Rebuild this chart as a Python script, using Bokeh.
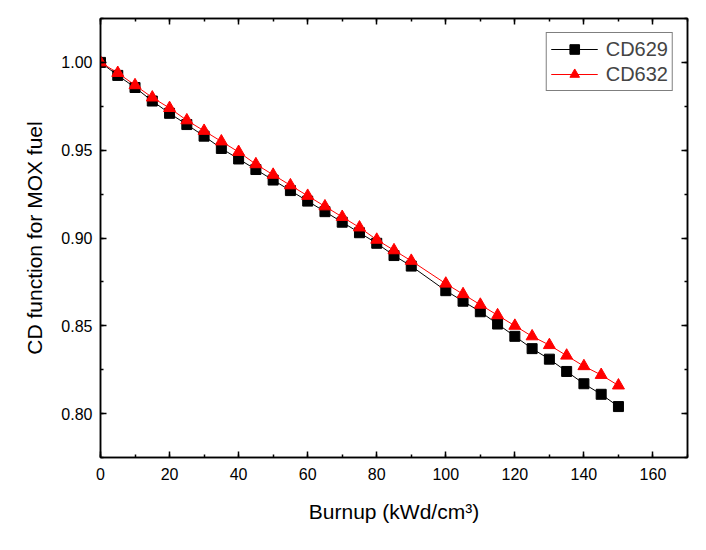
from bokeh.plotting import figure
from bokeh.models import (Range1d, LinearAxis, SingleIntervalTicker, PrintfTickFormatter,
                          Legend, LegendItem)
from bokeh.embed import file_html
from bokeh.resources import INLINE

burnup = [0, 5, 10, 15, 20, 25, 30, 35, 40, 45, 50, 55, 60, 65, 70, 75, 80, 85, 90,
          100, 105, 110, 115, 120, 125, 130, 135, 140, 145, 150]
cd629 = [1.000, 0.9926, 0.9857, 0.978, 0.971, 0.9646, 0.958, 0.951, 0.945, 0.939,
         0.933, 0.927, 0.921, 0.915, 0.909, 0.903, 0.897, 0.890, 0.884,
         0.870, 0.864, 0.858, 0.851, 0.844, 0.837, 0.831, 0.824, 0.817, 0.811, 0.804]
cd632 = [1.000, 0.994, 0.987, 0.980, 0.974, 0.967, 0.961, 0.955, 0.949, 0.942,
         0.936, 0.930, 0.924, 0.918, 0.912, 0.906, 0.899, 0.893, 0.887,
         0.874, 0.868, 0.862, 0.856, 0.850, 0.844, 0.839, 0.833, 0.827, 0.822, 0.816]

FONT = "Liberation Sans"

p = figure(width=698, height=534, output_backend="svg", toolbar_location=None,
           x_range=Range1d(0, 170), y_range=Range1d(0.775, 1.025),
           min_border_left=100, min_border_right=11, min_border_top=18, min_border_bottom=77,
           x_axis_label="Burnup (kWd/cm³)", y_axis_label="CD function for MOX fuel")
p.grid.visible = False
p.outline_line_color = "black"
p.outline_line_width = 1.5

xt = SingleIntervalTicker(interval=20, num_minor_ticks=2)
yt = SingleIntervalTicker(interval=0.05, num_minor_ticks=2)
p.xaxis.ticker = xt
p.yaxis.ticker = yt
p.yaxis.formatter = PrintfTickFormatter(format="%.2f")

for ax in (p.xaxis[0], p.yaxis[0]):
    ax.axis_line_width = 1.5
    ax.major_tick_in = 6
    ax.major_tick_out = 0
    ax.minor_tick_in = 3
    ax.minor_tick_out = 0
    ax.major_tick_line_width = 1.5
    ax.minor_tick_line_width = 1.5
    ax.major_label_text_font = FONT
    ax.major_label_text_font_size = "16px"
    ax.major_label_text_color = "black"
    ax.axis_label_text_font = FONT
    ax.axis_label_text_font_size = "21px"
    ax.axis_label_text_font_style = "normal"
    ax.axis_label_text_color = "black"
p.xaxis.major_label_standoff = 10
p.xaxis.axis_label_standoff = 17
p.yaxis.major_label_standoff = 8
p.yaxis.axis_label_standoff = 12

for loc, tk in (("above", xt), ("right", yt)):
    ax = LinearAxis(ticker=tk, major_label_text_font_size="0px", major_label_text_color=None,
                    major_label_standoff=0,
                    major_tick_in=6, major_tick_out=0, minor_tick_in=3, minor_tick_out=0,
                    axis_line_width=1.5, major_tick_line_width=1.5, minor_tick_line_width=1.5)
    p.add_layout(ax, loc)

l1 = p.line(burnup, cd629, line_color="black", line_width=1)
m1 = p.scatter(burnup, cd629, marker="square", size=10, fill_color="black", line_color="black")
l2 = p.line(burnup, cd632, line_color="red", line_width=1)
m2 = p.scatter(burnup, cd632, marker="triangle", size=12, fill_color="red", line_color="red")

legend = Legend(items=[LegendItem(label="CD629", renderers=[l1, m1]),
                       LegendItem(label="CD632", renderers=[l2, m2])],
                location="top_right")
legend.glyph_width = 47
legend.glyph_height = 24
legend.label_text_font = FONT
legend.label_text_font_size = "20px"
legend.label_standoff = 8
legend.border_line_color = "black"
legend.border_line_width = 1
legend.margin = 14
legend.padding = 4
legend.spacing = 1
legend.label_height = 24
p.add_layout(legend)

open("out.html", "w").write(file_html(p, INLINE))
